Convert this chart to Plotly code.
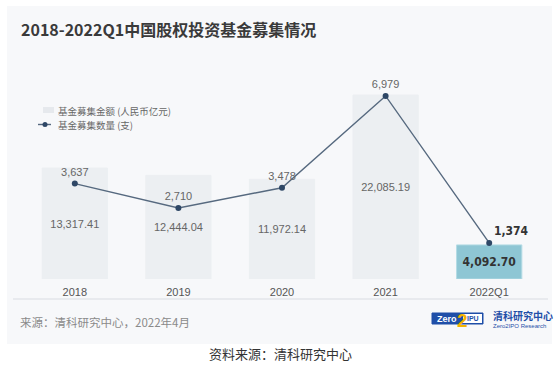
import plotly.graph_objects as go

categories = ["2018", "2019", "2020", "2021", "2022Q1"]
amount_values = [13317.41, 12444.04, 11972.14, 22085.19, 4092.70]
amount_labels = ["13,317.41", "12,444.04", "11,972.14", "22,085.19", "<b>4,092.70</b>"]
count_values = [3637, 2710, 3478, 6979, 1374]
count_labels = ["3,637", "2,710", "3,478", "6,979", "<b>1,374</b>"]
legend_names = ["基金募集金额 (人民币亿元)", "基金募集数量 (支)"]

W, H = 559, 367
def px(x):
    return x / W
def py(y):
    return 1 - y / H

FONT = "Arial, Liberation Sans, Noto Sans CJK SC, sans-serif"
CJK = "Noto Sans CJK SC, Liberation Sans, sans-serif"
NARROW = "Liberation Sans Narrow, DejaVu Sans Condensed, Roboto Condensed, Arial Narrow, " + FONT

BAR_GRAY = "#ECEFF2"
LINE_C = "#56697F"
MARK_C = "#2E4766"
bar_colors = [BAR_GRAY] * 4 + ["#8EC6D4"]
bar_line = [BAR_GRAY] * 4 + ["#B3DBE5"]

fig = go.Figure()
fig.add_trace(go.Bar(
    x=categories, y=amount_values, name=legend_names[0],
    marker=dict(color=bar_colors, line=dict(color=bar_line, width=1)),
    text=amount_labels, textposition="inside", insidetextanchor="middle",
    constraintext="none",
    textfont=dict(color=["#666666"] * 4 + ["#333333"], size=[11] * 4 + [12],
                  family=[FONT] * 4 + [NARROW]),
    hoverinfo="skip", yaxis="y", showlegend=False,
))
fig.add_trace(go.Scatter(
    x=categories, y=count_values, name=legend_names[1],
    mode="lines+markers+text",
    line=dict(color=LINE_C, width=1.4),
    marker=dict(color=MARK_C, size=6),
    text=count_labels,
    textposition=["top center"] * 4 + ["top right"],
    textfont=dict(color=["#666666"] * 4 + ["#333333"], size=[11] * 4 + [12],
                  family=[FONT] * 4 + [NARROW]),
    cliponaxis=False, showlegend=False,
    yaxis="y2",
))

plot_top, plot_bot = 80, 279
fig.update_layout(
    width=W, height=H,
    margin=dict(l=0, r=0, t=0, b=0),
    paper_bgcolor="#FFFFFF", plot_bgcolor="rgba(0,0,0,0)",
    font=dict(family=FONT, color="#666666", size=11),
    bargap=0.37,
    xaxis=dict(domain=[px(23), px(541)], showgrid=False, zeroline=False,
               showline=False, ticks="outside", ticklen=3, tickcolor="rgba(0,0,0,0)",
               tickfont=dict(size=11, color="#555555"), fixedrange=True),
    yaxis=dict(domain=[py(plot_bot), py(plot_top)], range=[0, 23890], visible=False),
    yaxis2=dict(domain=[py(plot_bot), py(plot_top)], range=[0, 7587], visible=False,
                overlaying="y", side="right"),
    shapes=[
        dict(type="rect", xref="paper", yref="paper", x0=px(7), x1=px(552), y0=py(344), y1=py(6),
             fillcolor="#F7F8FA", line=dict(width=0), layer="below"),
        dict(type="line", xref="paper", yref="paper", x0=px(13), x1=px(548), y0=py(299), y1=py(299),
             line=dict(color="#E3E6EA", width=1.5), layer="below"),
        dict(type="rect", xref="paper", yref="paper", x0=px(43), x1=px(54), y0=py(113), y1=py(107),
             fillcolor="#E6E9ED", line=dict(width=0), layer="above"),
        dict(type="line", xref="paper", yref="paper", x0=px(38), x1=px(51), y0=py(124.5), y1=py(124.5),
             line=dict(color=LINE_C, width=1.4), layer="above"),
        dict(type="circle", xref="paper", yref="paper", x0=px(42.5), x1=px(47.5), y0=py(127), y1=py(122),
             fillcolor=MARK_C, line=dict(width=0), layer="above"),
        dict(type="rect", xref="paper", yref="paper", x0=px(432), x1=px(483), y0=py(324), y1=py(313),
             fillcolor="#1F4FA8", line=dict(color="#1F4FA8", width=1), layer="above"),
        dict(type="rect", xref="paper", yref="paper", x0=px(463), x1=px(482), y0=py(323), y1=py(314),
             fillcolor="#FFFFFF", line=dict(width=0), layer="above"),
    ],
    annotations=[
        dict(text="<b>2018-2022Q1中国股权投资基金募集情况</b>", xref="paper", yref="paper",
             x=px(19), y=py(29), xanchor="left", yanchor="middle", showarrow=False,
             font=dict(size=16, color="#3A3A3A", family=CJK)),
        dict(text=legend_names[0], xref="paper", yref="paper",
             x=px(56), y=py(110.5), xanchor="left", yanchor="middle", showarrow=False,
             font=dict(size=9.5, color="#666666", family=CJK)),
        dict(text=legend_names[1], xref="paper", yref="paper",
             x=px(56), y=py(125), xanchor="left", yanchor="middle", showarrow=False,
             font=dict(size=9.5, color="#666666", family=CJK)),
        dict(text="来源：清科研究中心，2022年4月", xref="paper", yref="paper",
             x=px(18), y=py(322), xanchor="left", yanchor="middle", showarrow=False,
             font=dict(size=11.5, color="#8A8A8A", family=CJK)),
        dict(text="资料来源：清科研究中心", xref="paper", yref="paper",
             x=px(280), y=py(353), xanchor="center", yanchor="middle", showarrow=False,
             font=dict(size=13, color="#333333", family=CJK)),
        dict(text="<b>Zero</b>", xref="paper", yref="paper",
             x=px(447), y=py(318.5), xanchor="center", yanchor="middle", showarrow=False,
             font=dict(size=9, color="#FFFFFF", family=FONT)),
        dict(text="<b>2</b>", xref="paper", yref="paper",
             x=px(462), y=py(320), xanchor="center", yanchor="middle", showarrow=False,
             font=dict(size=19, color="#F5B400", family=FONT)),
        dict(text="<b>IPU</b>", xref="paper", yref="paper",
             x=px(473), y=py(318.5), xanchor="center", yanchor="middle", showarrow=False,
             font=dict(size=7, color="#1F4FA8", family=FONT)),
        dict(text="<b>清科研究中心</b>", xref="paper", yref="paper",
             x=px(491), y=py(315.5), xanchor="left", yanchor="middle", showarrow=False,
             font=dict(size=10, color="#1F4FA8", family=CJK)),
        dict(text="Zero2IPO Research", xref="paper", yref="paper",
             x=px(491), y=py(325.5), xanchor="left", yanchor="middle", showarrow=False,
             font=dict(size=6, color="#1F4FA8", family=FONT)),
    ],
)

fig.write_html("out.html", config={"displayModeBar": False},
               post_script="document.body.style.margin='0';document.body.style.overflow='hidden';")
